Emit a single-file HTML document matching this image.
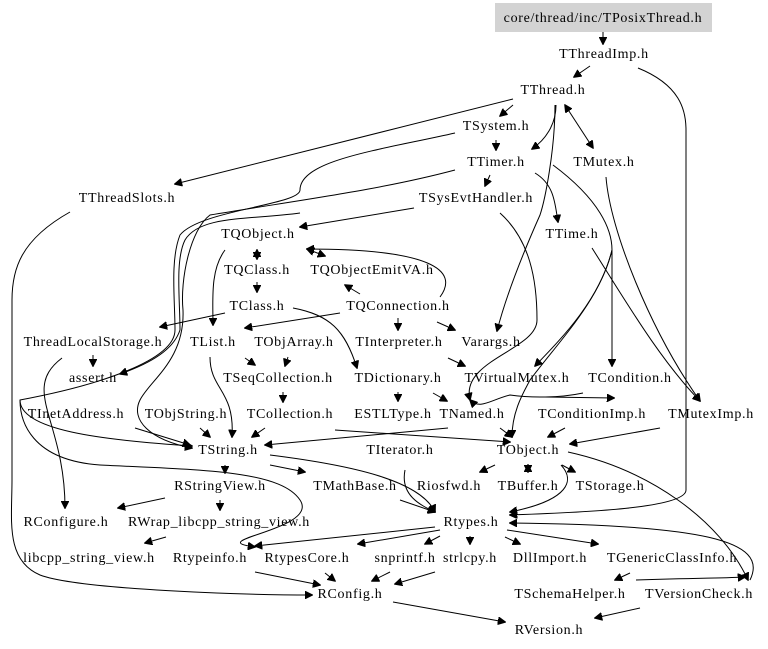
<!DOCTYPE html>
<html><head><meta charset="utf-8"><style>
html,body{margin:0;padding:0;background:#fff;}
svg{display:block;}
text{font-family:"Liberation Serif",serif;font-size:14px;letter-spacing:0.7px;fill:#000;text-anchor:middle;}
path,line{fill:none;stroke:#000;stroke-width:1;}
</style></head><body>
<svg width="768" height="649" viewBox="0 0 768 649" xmlns="http://www.w3.org/2000/svg">
<defs>
<marker id="a" viewBox="0 0 10 10" refX="9" refY="5" markerWidth="8" markerHeight="8" orient="auto-start-reverse" markerUnits="userSpaceOnUse"><path d="M0,0 L10,5 L0,10 z" style="fill:#000;stroke:#000"/></marker>
</defs>
<rect x="495" y="3" width="217" height="29" fill="#d3d3d3"/>
<g marker-end="url(#a)">
<path d="M603,32 L603,44"/>
<path d="M590,66 L574,77"/>
<path d="M638,68 C680,85 686,110 686,130 L686,490 C686,510 560,513 510,515"/>
<path d="M513,99 L175,184"/>
<path d="M513,105 L500,116"/>
<path d="M556,105 C556,125 545,140 532,149"/>
<path d="M565,105 L593,148" marker-start="url(#a)"/>
<path d="M555,105 C555,150 545,200 540,215 C520,260 505,300 497,331"/>
<path d="M553,165 C600,200 612,230 612,250 C600,300 560,340 535,366"/>
<path d="M496,140 L496,150"/>
<path d="M455,133 C380,150 300,160 300,190 C300,205 200,210 180,235 C170,260 175,300 175,330 C175,360 100,385 20,400 C20,430 100,440 192,446"/>
<path d="M455,170 C380,190 300,200 210,215 C190,230 180,280 183,310 C185,360 150,380 140,400 C130,420 150,440 192,448"/>
<path d="M490,175 L485,186"/>
<path d="M535,173 C555,185 555,205 558,222"/>
<path d="M414,208 L300,227"/>
<path d="M500,213 C530,240 537,280 537,320 C537,350 460,360 470,400"/>
<path d="M300,213 C250,220 200,215 185,240 C175,260 180,300 180,330 C175,345 160,360 120,374"/>
<path d="M257,250 L257,259" marker-start="url(#a)"/>
<path d="M307,249 L325,256" marker-start="url(#a)"/>
<path d="M440,297 C460,270 430,249 307,249"/>
<path d="M257,282 L257,292"/>
<path d="M360,294 L345,285"/>
<path d="M340,313 L245,328"/>
<path d="M398,318 L398,330"/>
<path d="M437,322 L455,330"/>
<path d="M293,308 C330,315 345,330 357,368"/>
<path d="M225,313 L160,327"/>
<path d="M225,250 C210,270 213,300 213,325"/>
<path d="M245,358 L255,365"/>
<path d="M288,357 L285,366"/>
<path d="M283,392 L283,402"/>
<path d="M210,357 C210,390 235,390 232,437"/>
<path d="M265,428 L252,437"/>
<path d="M335,430 L510,442"/>
<path d="M200,428 L210,437"/>
<path d="M135,428 L190,445"/>
<path d="M448,358 L465,366"/>
<path d="M398,392 L398,401"/>
<path d="M433,393 L447,401"/>
<path d="M500,428 L512,437"/>
<path d="M448,428 L265,445"/>
<path d="M565,428 L548,437"/>
<path d="M660,428 L570,444"/>
<path d="M606,177 C610,230 650,330 700,401"/>
<path d="M592,248 C625,300 660,360 700,401"/>
<path d="M612,250 C600,300 560,340 530,380 C525,390 512,410 512,437"/>
<path d="M583,393 C560,398 530,398 510,395 C490,400 480,410 470,400"/>
<path d="M545,397 L614,398"/>
<path d="M612,250 L612,366"/>
<path d="M495,465 L480,472"/>
<path d="M528,465 L528,472" marker-start="url(#a)"/>
<path d="M562,465 L575,472"/>
<path d="M568,452 C650,470 720,520 748,580"/>
<path d="M561,465 C575,480 570,500 510,512"/>
<path d="M225,465 L225,473"/>
<path d="M270,465 L305,472"/>
<path d="M270,455 C350,465 420,480 435,512"/>
<path d="M405,470 C400,495 420,505 435,512"/>
<path d="M400,500 L435,512"/>
<path d="M165,498 L118,508"/>
<path d="M220,500 L220,510"/>
<path d="M166,537 L145,543"/>
<path d="M440,530 L358,544"/>
<path d="M440,536 L425,544"/>
<path d="M470,536 L470,544"/>
<path d="M505,537 L520,544"/>
<path d="M507,530 L598,544"/>
<path d="M435,527 L255,546"/>
<path d="M325,573 L335,581"/>
<path d="M390,572 L372,581"/>
<path d="M435,572 L395,584"/>
<path d="M255,572 L320,585"/>
<path d="M393,602 L505,622"/>
<path d="M640,608 L595,618"/>
<path d="M630,573 L615,580"/>
<path d="M636,580 C700,578 730,578 745,577"/>
<path d="M750,580 C770,540 700,525 510,523"/>
<path d="M93,355 L93,366"/>
<path d="M62,358 C20,390 65,420 65,508"/>
<path d="M70,212 C20,240 12,270 12,300 L12,480 C12,520 5,560 40,575 C80,590 250,595 312,595"/>
<path d="M20,400 C20,420 30,460 100,465 C200,470 280,470 300,500 C320,530 200,540 255,547"/>
</g>
<text x="603" y="22">core/thread/inc/TPosixThread.h</text>
<text x="604" y="58">TThreadImp.h</text>
<text x="553" y="94">TThread.h</text>
<text x="496" y="130">TSystem.h</text>
<text x="496" y="166">TTimer.h</text>
<text x="604" y="166">TMutex.h</text>
<text x="127" y="202">TThreadSlots.h</text>
<text x="476" y="202">TSysEvtHandler.h</text>
<text x="572" y="238">TTime.h</text>
<text x="258" y="238">TQObject.h</text>
<text x="257" y="274">TQClass.h</text>
<text x="372" y="274">TQObjectEmitVA.h</text>
<text x="257" y="310">TClass.h</text>
<text x="398" y="310">TQConnection.h</text>
<text x="93" y="346">ThreadLocalStorage.h</text>
<text x="213" y="346">TList.h</text>
<text x="294" y="346">TObjArray.h</text>
<text x="399" y="346">TInterpreter.h</text>
<text x="491" y="346">Varargs.h</text>
<text x="93" y="382">assert.h</text>
<text x="278" y="382">TSeqCollection.h</text>
<text x="398" y="382">TDictionary.h</text>
<text x="517" y="382">TVirtualMutex.h</text>
<text x="630" y="382">TCondition.h</text>
<text x="76" y="418">TInetAddress.h</text>
<text x="186" y="418">TObjString.h</text>
<text x="290" y="418">TCollection.h</text>
<text x="393" y="418">ESTLType.h</text>
<text x="472" y="418">TNamed.h</text>
<text x="592" y="418">TConditionImp.h</text>
<text x="711" y="418">TMutexImp.h</text>
<text x="228" y="454">TString.h</text>
<text x="400" y="454">TIterator.h</text>
<text x="528" y="454">TObject.h</text>
<text x="220" y="490">RStringView.h</text>
<text x="355" y="490">TMathBase.h</text>
<text x="449" y="490">Riosfwd.h</text>
<text x="528" y="490">TBuffer.h</text>
<text x="610" y="490">TStorage.h</text>
<text x="66" y="526">RConfigure.h</text>
<text x="219" y="526">RWrap_libcpp_string_view.h</text>
<text x="471" y="526">Rtypes.h</text>
<text x="89" y="562">libcpp_string_view.h</text>
<text x="210" y="562">Rtypeinfo.h</text>
<text x="307" y="562">RtypesCore.h</text>
<text x="405" y="562">snprintf.h</text>
<text x="470" y="562">strlcpy.h</text>
<text x="550" y="562">DllImport.h</text>
<text x="672" y="562">TGenericClassInfo.h</text>
<text x="350" y="598">RConfig.h</text>
<text x="570" y="598">TSchemaHelper.h</text>
<text x="699" y="598">TVersionCheck.h</text>
<text x="549" y="634">RVersion.h</text>
</svg>
</body></html>
